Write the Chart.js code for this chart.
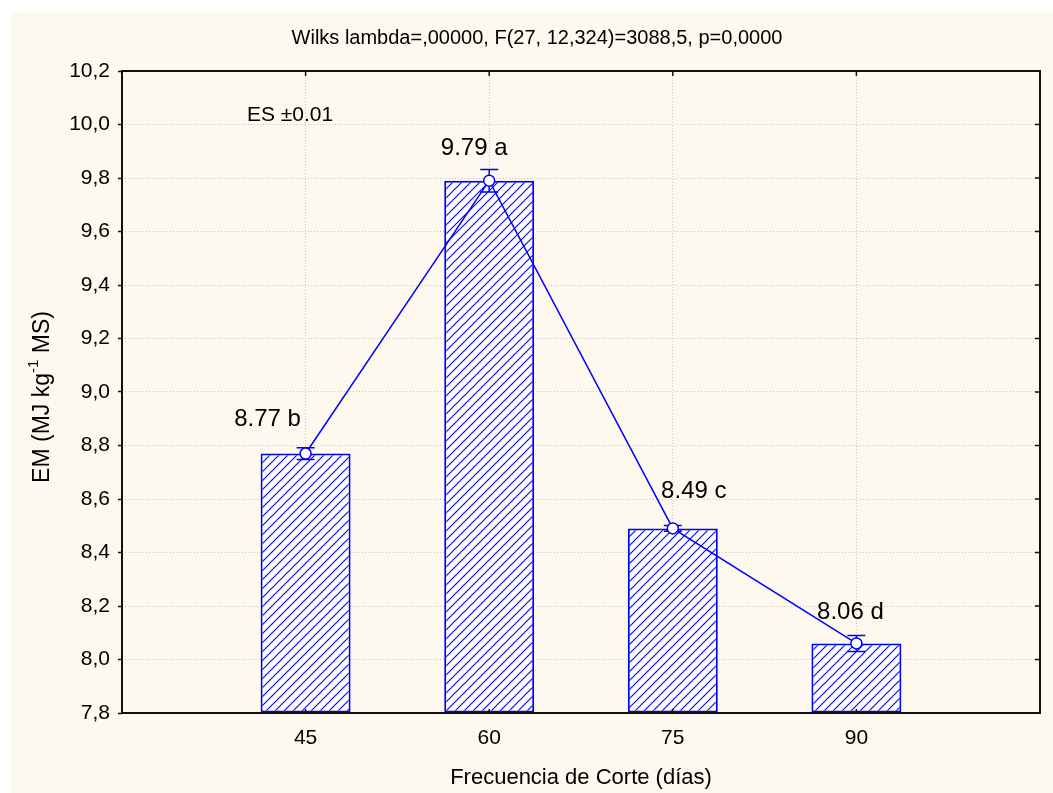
<!DOCTYPE html>
<html>
<head>
<meta charset="utf-8">
<script src="https://cdn.jsdelivr.net/npm/chart.js@4.4.1/dist/chart.umd.min.js"></script>
<style>
  html, body { margin: 0; background: #fff; }
  #marco { position: absolute; left: 11px; top: 12px; width: 1042px; height: 781px; background: #fef9ef; }
  #grafico { display: block; }
</style>
</head>
<body>
<div id="marco"><canvas id="grafico" width="1042" height="781"></canvas></div>
<script>
// Datos
const frecuencias = [45, 60, 75, 90];
const em = [8.77, 9.79, 8.49, 8.06];
const errores = [0.022, 0.042, 0.011, 0.03];
const etiquetas = ["8.77 b", "9.79 a", "8.49 c", "8.06 d"];
// desplazamiento de cada etiqueta respecto a su punto (px)
const despEtiquetas = [[-38, -34], [-15, -32], [21, -37], [-6, -31]];

const yMin = 7.8, yMax = 10.2, yPaso = 0.2;
const xMin = 30, xMax = 105, xPaso = 15;

const titulo = "Wilks lambda=,00000, F(27, 12,324)=3088,5, p=0,0000";
const tituloX = "Frecuencia de Corte (días)";
const notaES = "ES ±0.01";

const AZUL = "#0000ff";
const FUENTE = "'Liberation Sans', Arial, sans-serif";

function rayado() {
  const t = 9;
  const c = document.createElement("canvas");
  c.width = c.height = t;
  const g = c.getContext("2d");
  g.fillStyle = "#fff";
  g.fillRect(0, 0, t, t);
  g.strokeStyle = AZUL;
  g.lineWidth = 1.1;
  g.beginPath();
  g.moveTo(0, t); g.lineTo(t, 0);
  g.moveTo(-2, 2); g.lineTo(2, -2);
  g.moveTo(t - 2, t + 2); g.lineTo(t + 2, t - 2);
  g.stroke();
  return g.createPattern(c, "repeat");
}

const extras = {
  id: "extras",
  beforeDatasetDraw(chart, args) {
    if (args.index !== 0) return;
    const ctx = chart.ctx, xs = chart.scales.x, ys = chart.scales.y;
    ctx.save();
    ctx.strokeStyle = AZUL;
    ctx.lineWidth = 1.5;
    frecuencias.forEach((f, i) => {
      const x = xs.getPixelForValue(f);
      const y1 = ys.getPixelForValue(em[i] + errores[i]);
      const y2 = ys.getPixelForValue(em[i] - errores[i]);
      ctx.beginPath();
      ctx.moveTo(x, y1); ctx.lineTo(x, y2);
      ctx.moveTo(x - 9, y1); ctx.lineTo(x + 9, y1);
      ctx.moveTo(x - 9, y2); ctx.lineTo(x + 9, y2);
      ctx.stroke();
    });
    ctx.restore();
  },
  afterDraw(chart) {
    const ctx = chart.ctx, a = chart.chartArea, xs = chart.scales.x, ys = chart.scales.y;
    ctx.save();
    // marco
    ctx.strokeStyle = "#111";
    ctx.lineWidth = 2;
    ctx.strokeRect(a.left, a.top, a.right - a.left, a.bottom - a.top);
    // marcas interiores
    ctx.lineWidth = 1.5;
    ctx.beginPath();
    ys.ticks.forEach(t => {
      const y = ys.getPixelForValue(t.value);
      ctx.moveTo(a.right, y); ctx.lineTo(a.right - 5, y);
    });
    frecuencias.forEach(f => {
      const x = xs.getPixelForValue(f);
      ctx.moveTo(x, a.top); ctx.lineTo(x, a.top + 5);
      ctx.moveTo(x, a.bottom); ctx.lineTo(x, a.bottom - 4);
    });
    ctx.stroke();

    // etiquetas de valores
    ctx.fillStyle = "#000";
    ctx.textAlign = "center";
    ctx.textBaseline = "middle";
    ctx.font = "24px " + FUENTE;
    etiquetas.forEach((t, i) => {
      const x = xs.getPixelForValue(frecuencias[i]) + despEtiquetas[i][0];
      const y = ys.getPixelForValue(em[i]) + despEtiquetas[i][1];
      ctx.fillText(t, x, y);
    });
    ctx.font = "21px " + FUENTE;
    ctx.fillText(notaES, a.left + 168, a.top + 44);

    // títulos
    ctx.font = "20px " + FUENTE;
    ctx.fillText(titulo, 526, 26);
    ctx.font = "22px " + FUENTE;
    ctx.fillText(tituloX, (a.left + a.right) / 2, 766);

    // título eje Y con superíndice
    ctx.translate(32, (a.top + a.bottom) / 2 + 5);
    ctx.rotate(-Math.PI / 2);
    const f1 = "23px " + FUENTE, f2 = "15px " + FUENTE;
    const p1 = "EM (MJ kg", p2 = "-1", p3 = " MS)";
    ctx.font = f1; const w1 = ctx.measureText(p1).width, w3 = ctx.measureText(p3).width;
    ctx.font = f2; const w2 = ctx.measureText(p2).width;
    let x0 = -(w1 + w2 + w3) / 2;
    ctx.textAlign = "left";
    ctx.font = f1; ctx.fillText(p1, x0, 0);
    ctx.font = f2; ctx.fillText(p2, x0 + w1, -9);
    ctx.font = f1; ctx.fillText(p3, x0 + w1 + w2, 0);
    ctx.restore();
  }
};

const ctx = document.getElementById("grafico").getContext("2d");
new Chart(ctx, {
  data: {
    datasets: [
      {
        type: "line",
        data: frecuencias.map((f, i) => ({ x: f, y: em[i] })),
        borderColor: AZUL,
        borderWidth: 1.5,
        pointRadius: 5.5,
        pointBorderWidth: 1.5,
        pointBackgroundColor: "#fff",
        pointBorderColor: AZUL,
        tension: 0,
        order: 0
      },
      {
        type: "bar",
        data: frecuencias.map((f, i) => ({ x: f, y: em[i] })),
        backgroundColor: rayado(),
        borderColor: AZUL,
        borderWidth: 2,
        borderSkipped: false,
        base: yMin,
        categoryPercentage: 1,
        barPercentage: 0.49,
        order: 1
      }
    ]
  },
  options: {
    responsive: false,
    animation: false,
    layout: { padding: { top: 59, right: 8, left: 0, bottom: 0 } },
    plugins: { legend: { display: false }, tooltip: { enabled: false } },
    scales: {
      x: {
        type: "linear",
        min: xMin, max: xMax,
        offset: false,
        afterFit: s => { s.height = 80; },
        ticks: {
          stepSize: xPaso,
          padding: 13,
          color: "#000",
          font: { family: FUENTE, size: 21 },
          callback: v => frecuencias.includes(v) ? String(v) : ""
        },
        grid: { color: "#c8c8c8", drawTicks: false, lineWidth: 1, offset: false },
        border: { display: false, dash: [1, 2] }
      },
      y: {
        min: yMin, max: yMax,
        afterFit: s => { s.width = 111; },
        ticks: {
          stepSize: yPaso,
          padding: 8,
          color: "#000",
          font: { family: FUENTE, size: 21 },
          callback: v => v.toFixed(1).replace(".", ",")
        },
        grid: { color: "#c8c8c8", tickColor: "#111", tickLength: 4, tickWidth: 1.5, lineWidth: 1 },
        border: { display: false, dash: [1, 2] }
      }
    }
  },
  plugins: [extras]
});
</script>
</body>
</html>
